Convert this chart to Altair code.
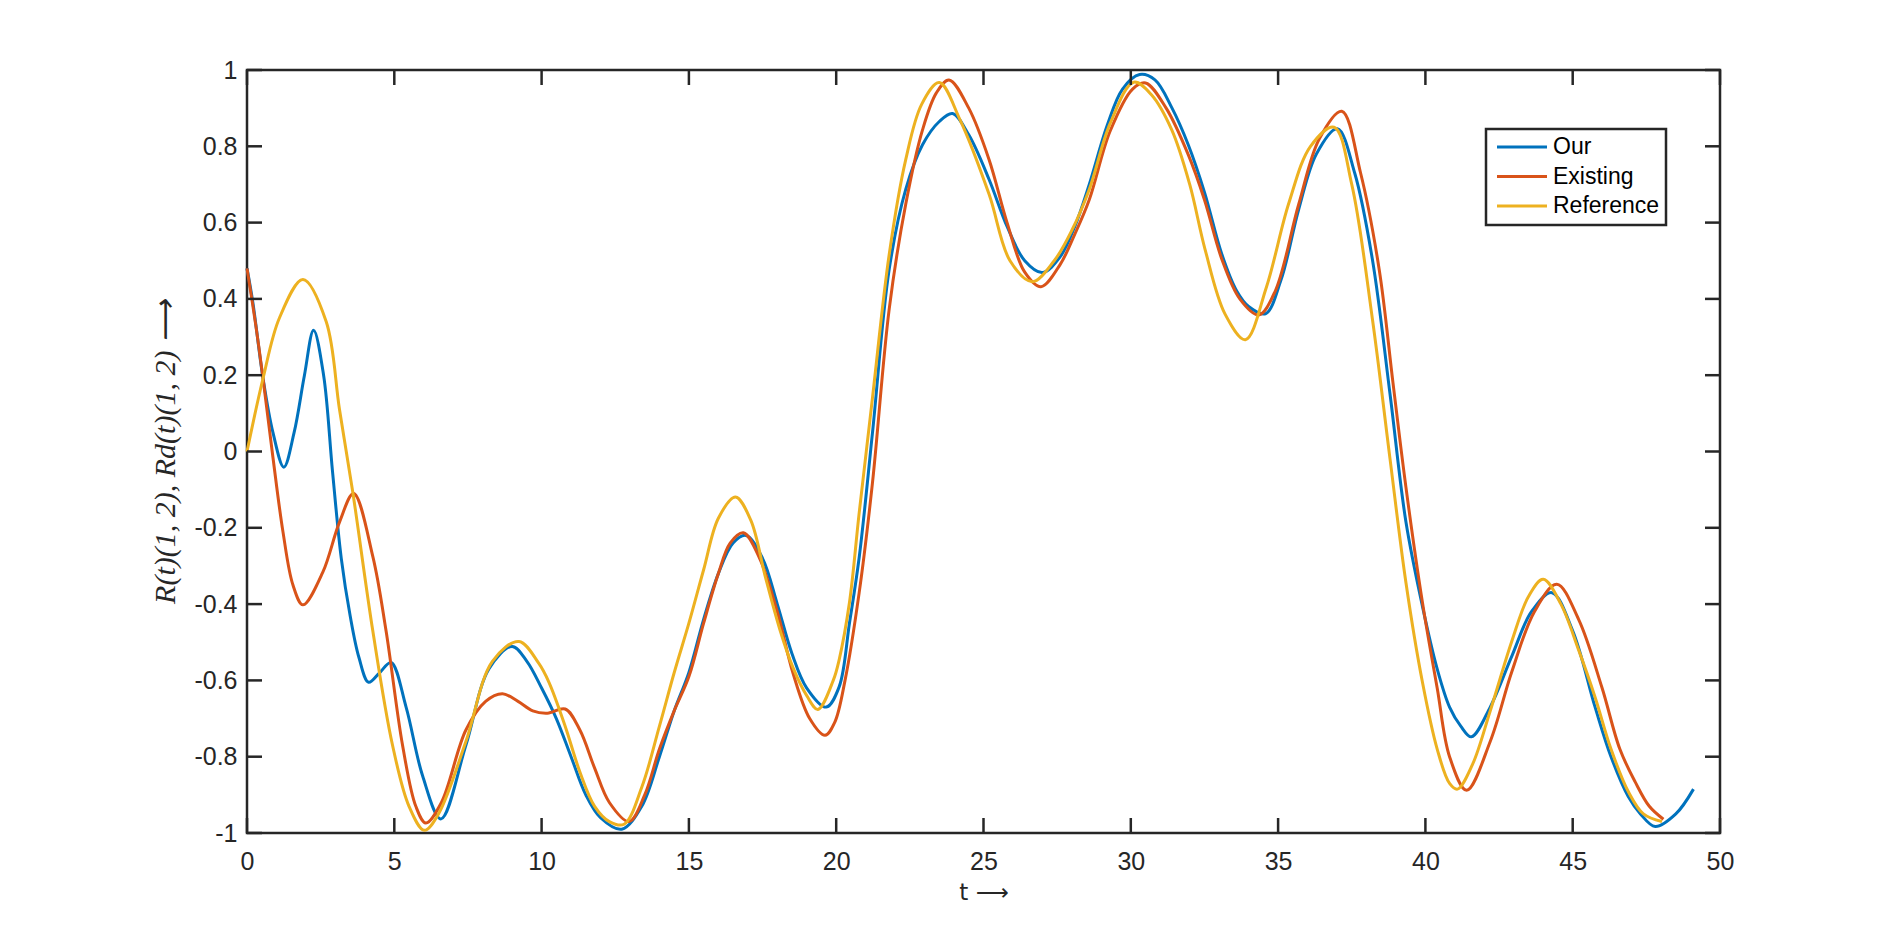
import altair as alt
import pandas as pd

SERIES = ["Our", "Existing", "Reference"]
COLORS = ["#0072BD", "#D95319", "#EDB120"]

T_OUR = [0, 0.2, 0.54, 0.88, 1.25, 1.6, 1.95, 2.26, 2.6, 2.9, 3.2, 3.5, 3.8, 4.13, 4.5, 4.89,
         5.4, 5.96, 6.58, 7.43, 8.21, 9.0, 9.5, 10.0, 10.5, 11.0, 11.5, 12.0, 12.72, 13.4, 14.0,
         14.5, 15.0, 15.5, 16.0, 16.5, 16.94, 17.5, 18.0, 18.5, 19.0, 19.66, 20.1, 20.45, 20.78,
         21.23, 21.8, 22.36, 22.93, 23.5, 23.95, 24.5, 25.19, 25.8, 26.4, 27.0, 27.6, 28.1, 28.59,
         29.2, 29.72, 30.3, 30.82, 31.4, 31.95, 32.5, 33.09, 33.6, 34.0, 34.57, 35.1, 35.7, 36.3,
         37.01, 37.6, 38.2, 38.8, 39.34, 39.9, 40.4, 40.82, 41.2, 41.56, 42.2, 42.93, 43.6, 44.29,
         45.0, 45.76, 46.3, 46.89, 47.3, 47.8, 48.5, 49.1]
Y_OUR = [0.48, 0.39, 0.194, 0.05, -0.041, 0.05, 0.2, 0.318, 0.2, -0.05, -0.28, -0.43, -0.54,
         -0.605, -0.58, -0.553, -0.67, -0.85, -0.963, -0.77, -0.57, -0.511, -0.55, -0.62, -0.7,
         -0.8, -0.9, -0.96, -0.99, -0.93, -0.8, -0.68, -0.579, -0.44, -0.32, -0.24, -0.22, -0.28,
         -0.4, -0.53, -0.62, -0.67, -0.617, -0.45, -0.278, 0.048, 0.478, 0.687, 0.804, 0.865,
         0.886, 0.83, 0.713, 0.59, 0.5, 0.469, 0.51, 0.59, 0.70, 0.855, 0.95, 0.988, 0.974, 0.9,
         0.804, 0.68, 0.517, 0.42, 0.38, 0.361, 0.45, 0.635, 0.78, 0.846, 0.73, 0.504, 0.15,
         -0.185, -0.406, -0.57, -0.67, -0.72, -0.748, -0.67, -0.537, -0.42, -0.37, -0.47, -0.67,
         -0.8, -0.905, -0.95, -0.983, -0.95, -0.885]

T_EX = [0, 0.3, 0.54, 0.88, 1.22, 1.56, 1.9, 2.57, 3.14, 3.62, 4.27, 4.72, 5.28, 5.73, 6.07,
        6.6, 7.43, 8.1, 8.67, 9.2, 9.7, 10.2, 10.8, 11.3, 11.8, 12.3, 12.97, 13.5, 14.0, 14.5,
        15.0, 15.5, 16.0, 16.4, 16.85, 17.4, 18.0, 18.53, 19.1, 19.62, 19.95, 20.3, 20.78, 21.23,
        21.8, 22.36, 22.93, 23.4, 23.83, 24.5, 25.19, 25.8, 26.4, 26.95, 27.6, 28.1, 28.59, 29.3,
        30.06, 30.5, 31.2, 31.95, 32.5, 33.09, 33.7, 34.34, 34.9, 35.7, 36.4, 37.16, 37.8, 38.43,
        38.9, 39.34, 39.9, 40.4, 40.82, 41.4, 42.2, 42.93, 43.7, 44.46, 45.2, 45.99, 46.6, 47.12,
        47.6, 48.08]
Y_EX = [0.48, 0.33, 0.194, -0.015, -0.21, -0.35, -0.402, -0.317, -0.185, -0.11, -0.275, -0.47,
        -0.77, -0.93, -0.974, -0.92, -0.73, -0.655, -0.635, -0.655, -0.68, -0.686, -0.675, -0.73,
        -0.83, -0.92, -0.97, -0.9, -0.78, -0.68, -0.59, -0.45, -0.32, -0.24, -0.213, -0.28, -0.42,
        -0.58, -0.7, -0.744, -0.71, -0.6, -0.37, -0.083, 0.374, 0.648, 0.843, 0.94, 0.974, 0.9,
        0.765, 0.6, 0.47, 0.432, 0.49, 0.57, 0.66, 0.84, 0.95, 0.966, 0.9, 0.778, 0.66, 0.504,
        0.4, 0.358, 0.42, 0.648, 0.82, 0.892, 0.73, 0.478, 0.18, -0.094, -0.396, -0.62, -0.8,
        -0.888, -0.76, -0.578, -0.42, -0.348, -0.44, -0.618, -0.78, -0.866, -0.93, -0.964]

T_REF = [0, 0.54, 1.1, 1.9, 2.69, 3.14, 3.59, 4.27, 4.94, 5.5, 6.02, 6.5, 7.43, 8.33, 9.23, 9.9,
         10.25, 10.8, 11.3, 11.8, 12.3, 12.8, 13.4, 14.0, 14.5, 15.0, 15.5, 16.0, 16.58, 17.1,
         17.6, 18.1, 18.53, 19.0, 19.38, 19.9, 20.1, 20.45, 20.78, 21.23, 21.8, 22.36, 22.9, 23.5,
         24.2, 25.19, 25.9, 26.66, 27.4, 28.0, 28.59, 29.3, 30.1, 30.7, 31.39, 32.0, 32.52, 33.2,
         33.89, 34.6, 35.36, 36.1, 36.9, 37.5, 38.2, 38.8, 39.34, 39.9, 40.4, 40.82, 41.09, 41.6,
         42.2, 42.93, 43.5, 44.0, 44.6, 45.2, 45.76, 46.3, 46.89, 47.4, 48.03]
Y_REF = [0.0, 0.19, 0.35, 0.451, 0.34, 0.11, -0.106, -0.47, -0.77, -0.93, -0.993, -0.95, -0.76,
         -0.55, -0.498, -0.555, -0.605, -0.72, -0.84, -0.93, -0.97, -0.977, -0.88, -0.72, -0.58,
         -0.45, -0.31, -0.175, -0.119, -0.18, -0.33, -0.47, -0.566, -0.64, -0.676, -0.6, -0.546,
         -0.396, -0.161, 0.14, 0.517, 0.765, 0.91, 0.967, 0.87, 0.674, 0.5, 0.445, 0.5, 0.58,
         0.687, 0.86, 0.968, 0.935, 0.843, 0.7, 0.53, 0.36, 0.293, 0.43, 0.65, 0.8, 0.85, 0.7,
         0.348, -0.02, -0.344, -0.605, -0.78, -0.87, -0.885, -0.82, -0.68, -0.498, -0.38, -0.335,
         -0.4, -0.52, -0.644, -0.78, -0.892, -0.95, -0.97]

X_TICKS = [0, 5, 10, 15, 20, 25, 30, 35, 40, 45, 50]
Y_TICKS = [-1, -0.8, -0.6, -0.4, -0.2, 0, 0.2, 0.4, 0.6, 0.8, 1]

rows = []
for name, ts, vs in zip(SERIES, [T_OUR, T_EX, T_REF], [Y_OUR, Y_EX, Y_REF]):
    for t, v in zip(ts, vs):
        rows.append({"t": t, "y": v, "series": name})
df = pd.DataFrame(rows)

W, H = 1473, 763
AX = "#262626"
TICK = 15
FW = 2.5

xs = alt.Scale(domain=[0, 50], nice=False, zero=False)
ys = alt.Scale(domain=[-1, 1], nice=False, zero=False)

LBL = "replace(format(datum.value, '~g'), '\u2212', '-')"

X_AXIS = alt.Axis(values=X_TICKS, title="t \u27f6", labelExpr=LBL, labelPadding=16,
                  labelFlush=False,
                  titleY=59, titleBaseline="middle", titleFont="DejaVu Sans",
                  titleFontSize=23, titleFontWeight="normal", titleColor=AX)
Y_AXIS = alt.Axis(values=Y_TICKS, title="R(t)(1, 2),  Rd(t)(1, 2)  \u27f6", labelExpr=LBL,
                  labelPadding=10, labelFlush=False,
                  titleX=-82, titleAngle=270, titleBaseline="middle",
                  titleFont="Liberation Serif", titleFontStyle="italic",
                  titleFontSize=30, titleFontWeight="normal", titleColor=AX)

lines = alt.Chart(df).mark_line(interpolate="catmull-rom", strokeWidth=3).encode(
    x=alt.X("t:Q", scale=xs, axis=X_AXIS),
    y=alt.Y("y:Q", scale=ys, axis=Y_AXIS),
    color=alt.Color(
        "series:N",
        scale=alt.Scale(domain=SERIES, range=COLORS),
        legend=alt.Legend(
            title=None, orient="none", legendX=1239, legendY=59,
            fillColor="white", strokeColor=AX, padding=6.5, rowPadding=5.5,
            symbolType="M-0.7,0H4.3", symbolSize=400, symbolStrokeWidth=3,
            labelOffset=37.5, labelFont="Liberation Sans", labelFontSize=23,
            labelColor="black",
        ),
    ),
)

xt = pd.DataFrame({"t": X_TICKS})
yt = pd.DataFrame({"y": Y_TICKS})

tick_style = dict(color=AX, strokeWidth=FW)
bottom_ticks = alt.Chart(xt).mark_rule(**tick_style).encode(
    x=alt.X("t:Q", scale=xs, axis=X_AXIS), y=alt.value(H), y2=alt.value(H - TICK))
top_ticks = alt.Chart(xt).mark_rule(**tick_style).encode(
    x=alt.X("t:Q", scale=xs, axis=X_AXIS), y=alt.value(0), y2=alt.value(TICK))
left_ticks = alt.Chart(yt).mark_rule(**tick_style).encode(
    y=alt.Y("y:Q", scale=ys, axis=Y_AXIS), x=alt.value(0), x2=alt.value(TICK))
right_ticks = alt.Chart(yt).mark_rule(**tick_style).encode(
    y=alt.Y("y:Q", scale=ys, axis=Y_AXIS), x=alt.value(W), x2=alt.value(W - TICK))

chart = alt.layer(lines, bottom_ticks, top_ticks, left_ticks, right_ticks).properties(
    width=W, height=H,
    padding={"left": 239, "top": 62, "right": 170, "bottom": 95},
    autosize=alt.AutoSizeParams(type="none"),
    background="white",
).configure(font="Liberation Sans").configure_view(
    stroke=AX, strokeWidth=FW
).configure_axis(
    domain=False, ticks=False, tickSize=0, grid=False, labelFlush=False,
    labelFont="Liberation Sans", labelFontSize=25, labelColor=AX,
).configure_legend(strokeWidth=2.5)

chart.save("out.html", embed_options={"renderer": "svg", "actions": False})
